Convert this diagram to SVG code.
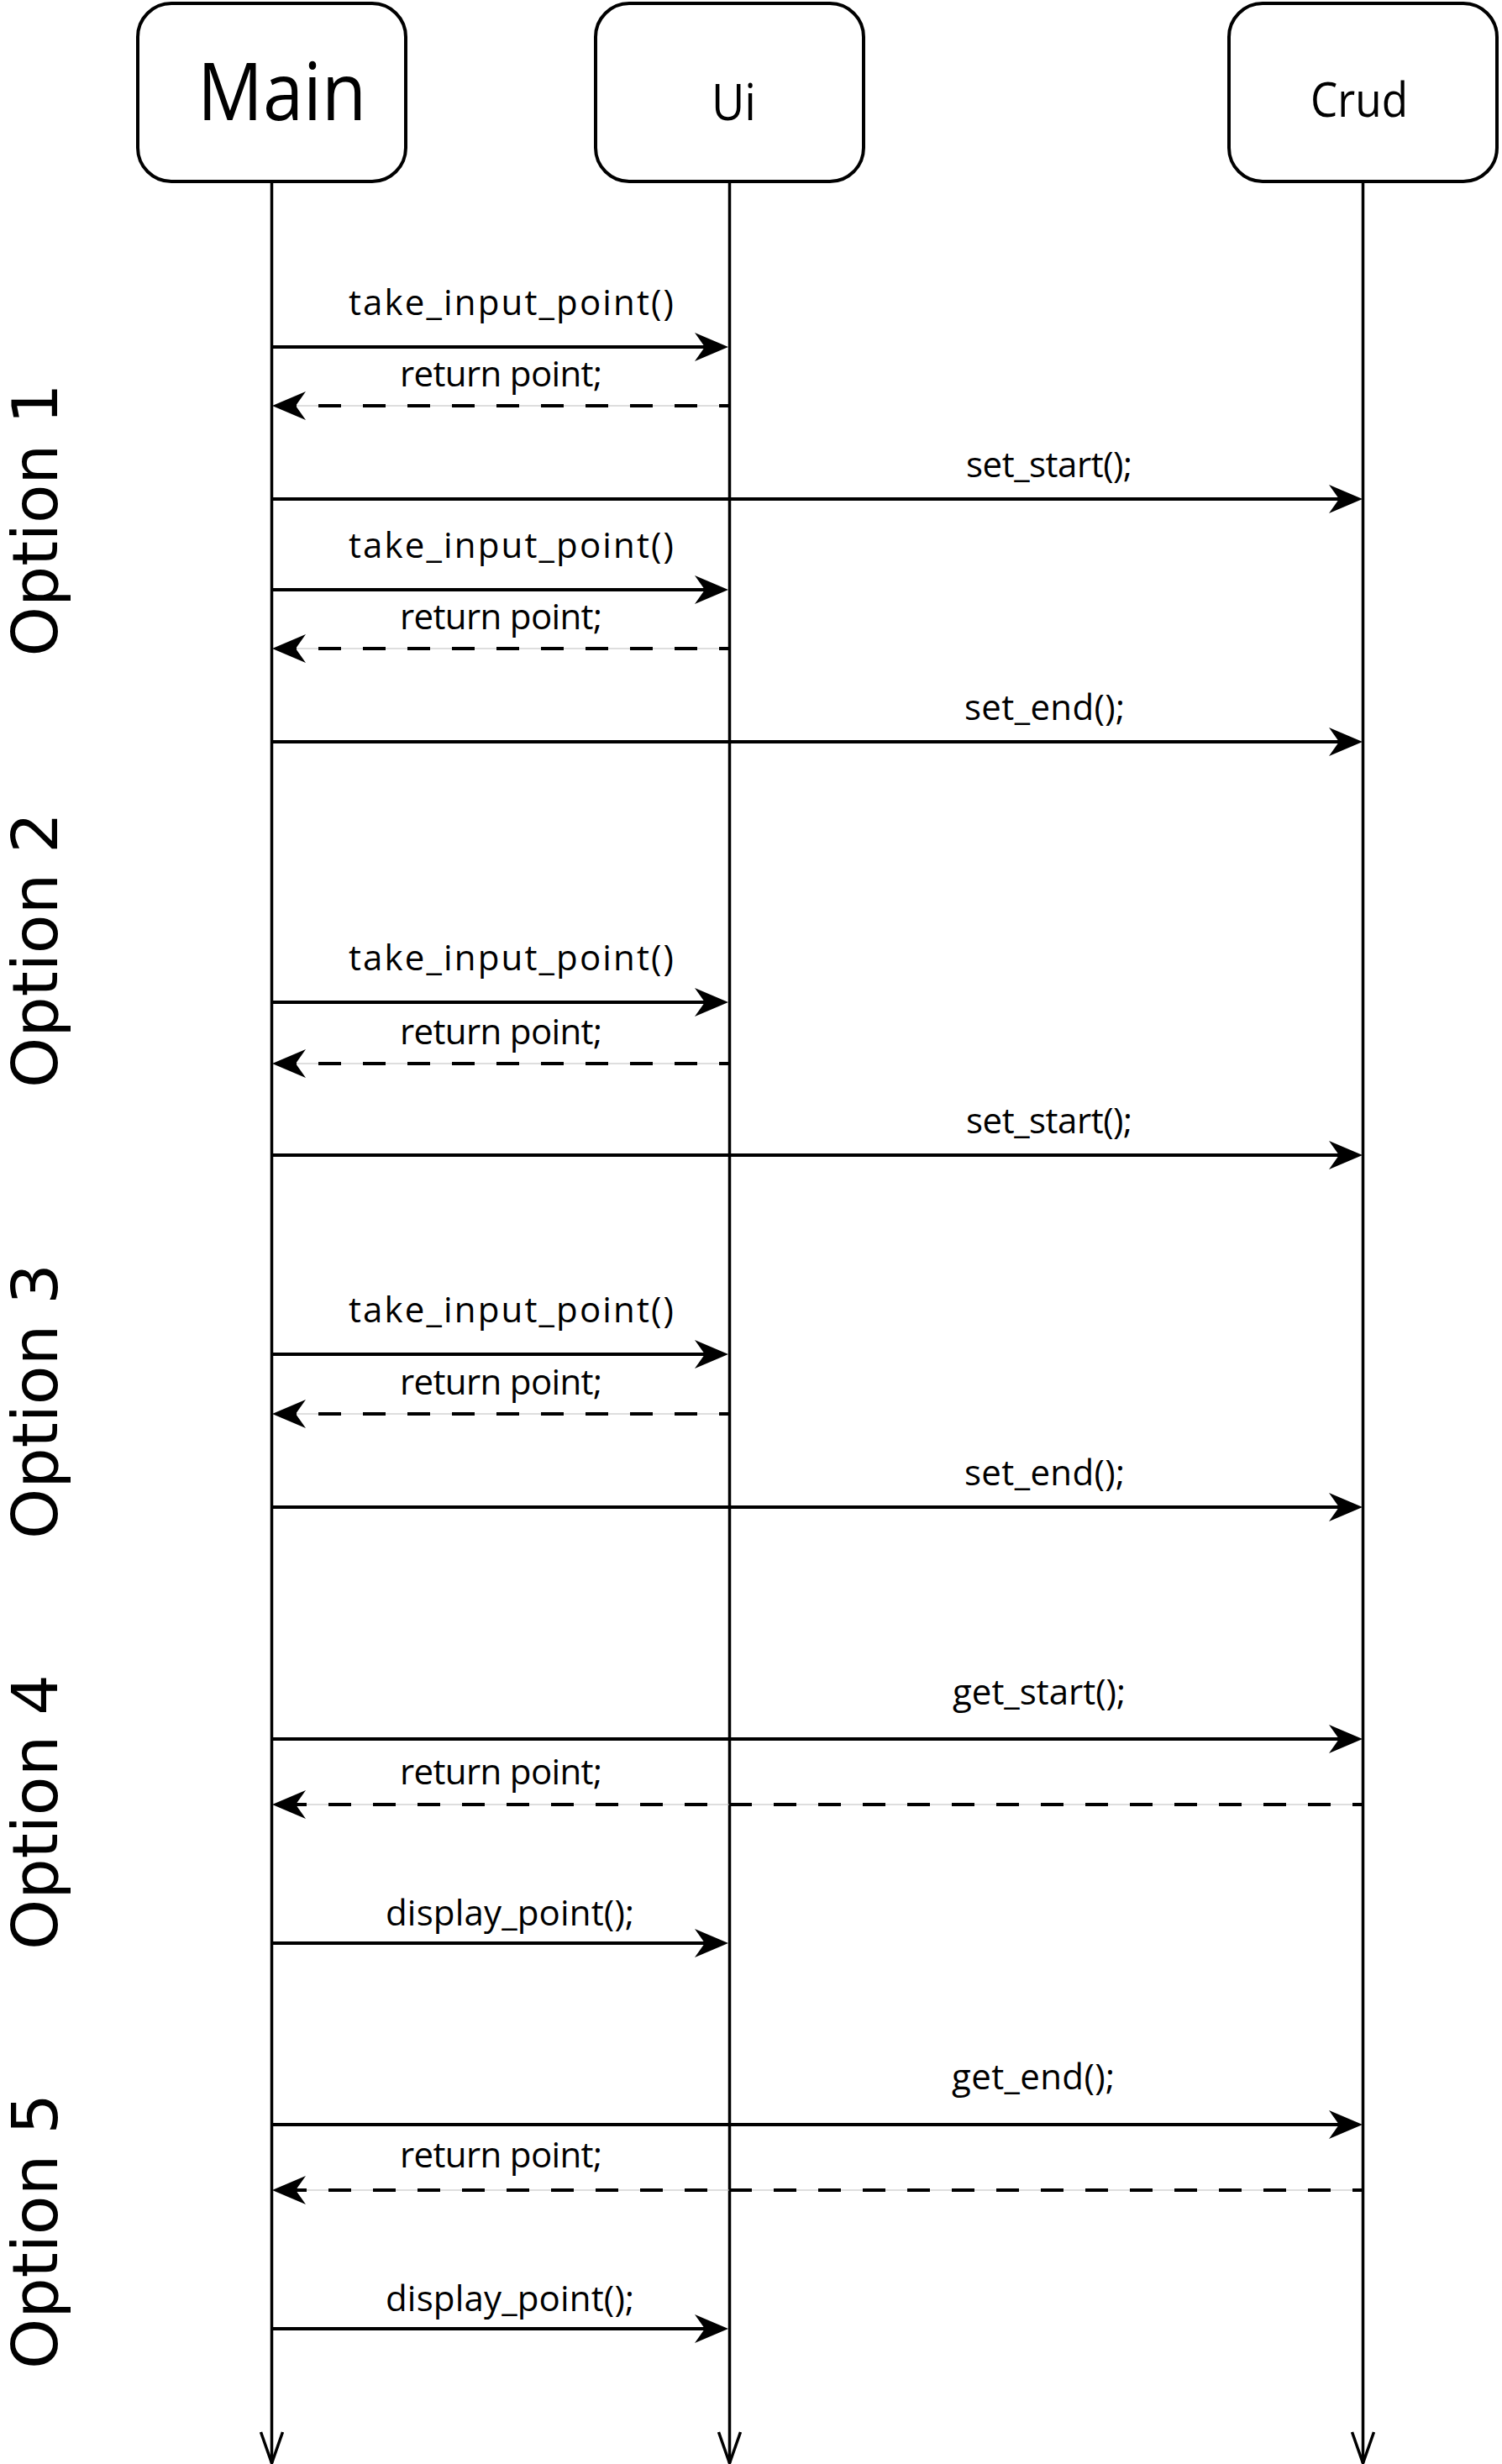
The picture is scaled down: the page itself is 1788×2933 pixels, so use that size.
<svg xmlns="http://www.w3.org/2000/svg" width="1788" height="2933" viewBox="0 0 1788 2933">
<style>
.box{fill:#fff;stroke:#000;stroke-width:4}
.life{stroke:#000;stroke-width:3.5;fill:none}
.msg{stroke:#000;stroke-width:4;fill:none}
.ret{stroke:#000;stroke-width:4;fill:none;stroke-dasharray:27 26}
.ghost{stroke:#bdbdbd;stroke-width:1;fill:none}
.lbl{font-family:"Open Sans",Lato,sans-serif;font-size:42px;fill:#000}
.head{font-family:"Open Sans",Lato,sans-serif;fill:#000}
.opt{font-family:"DejaVu Sans",sans-serif;font-size:74px;fill:#000;text-anchor:middle}
</style>
<defs>
<marker id="arr" markerUnits="userSpaceOnUse" viewBox="0 0 40 34" refX="12" refY="17" markerWidth="40" markerHeight="34" orient="auto" overflow="visible">
<path d="M0,0 L40,17 L0,34 L12,17 Z" fill="#000"/>
</marker>
<marker id="open" markerUnits="userSpaceOnUse" viewBox="0 0 40 28" refX="37" refY="13" markerWidth="40" markerHeight="28" orient="auto" overflow="visible">
<path d="M0,0 L37,13 L0,26" fill="none" stroke="#000" stroke-width="3.5"/>
</marker>
</defs>
<rect width="1788" height="2933" fill="#fff"/>

<g id="main">
<rect class="box" x="164" y="4" width="319" height="212" rx="40" ry="40"/>
<text class="head" x="235" y="143" font-size="95" textLength="201" lengthAdjust="spacingAndGlyphs">Main</text>
<path class="life" d="M323.5,218 V2932" marker-end="url(#open)"/>
</g>
<g id="ui">
<rect class="box" x="709" y="4" width="319" height="212" rx="40" ry="40"/>
<text class="head" x="847" y="143" font-size="60" textLength="53" lengthAdjust="spacingAndGlyphs">Ui</text>
<path class="life" d="M868.5,218 V2932" marker-end="url(#open)"/>
</g>
<g id="crud">
<rect class="box" x="1463" y="4" width="319" height="212" rx="40" ry="40"/>
<text class="head" x="1560" y="139" font-size="56" textLength="116" lengthAdjust="spacingAndGlyphs">Crud</text>
<path class="life" d="M1622.5,218 V2932" marker-end="url(#open)"/>
</g>

<g id="options">
<text class="opt" transform="translate(68,619) rotate(-90)" textLength="325" lengthAdjust="spacingAndGlyphs">Option 1</text>
<text class="opt" transform="translate(68,1131) rotate(-90)" textLength="328" lengthAdjust="spacingAndGlyphs">Option 2</text>
<text class="opt" transform="translate(68,1668) rotate(-90)" textLength="328" lengthAdjust="spacingAndGlyphs">Option 3</text>
<text class="opt" transform="translate(68,2157) rotate(-90)" textLength="328" lengthAdjust="spacingAndGlyphs">Option 4</text>
<text class="opt" transform="translate(68,2656) rotate(-90)" textLength="328" lengthAdjust="spacingAndGlyphs">Option 5</text>
</g>

<g id="connectors">
<!-- Option 1 -->
<path class="msg" d="M325,413 H839" marker-end="url(#arr)"/>
<text class="lbl" x="415" y="375" textLength="387">take_input_point()</text>
<path class="ghost" d="M867,483 H352"/>
<path class="ret" d="M867,483 H352" stroke-dashoffset="16" marker-end="url(#arr)"/>
<text class="lbl" x="476" y="460" textLength="241">return point;</text>
<path class="msg" d="M325,594 H1594" marker-end="url(#arr)"/>
<text class="lbl" x="1150" y="568" textLength="198">set_start();</text>
<path class="msg" d="M325,702 H839" marker-end="url(#arr)"/>
<text class="lbl" x="415" y="664" textLength="387">take_input_point()</text>
<path class="ghost" d="M867,772 H352"/>
<path class="ret" d="M867,772 H352" stroke-dashoffset="16" marker-end="url(#arr)"/>
<text class="lbl" x="476" y="749" textLength="241">return point;</text>
<path class="msg" d="M325,883 H1594" marker-end="url(#arr)"/>
<text class="lbl" x="1148" y="857" textLength="191">set_end();</text>
<!-- Option 2 -->
<path class="msg" d="M325,1193 H839" marker-end="url(#arr)"/>
<text class="lbl" x="415" y="1155" textLength="387">take_input_point()</text>
<path class="ghost" d="M867,1266 H352"/>
<path class="ret" d="M867,1266 H352" stroke-dashoffset="16" marker-end="url(#arr)"/>
<text class="lbl" x="476" y="1243" textLength="241">return point;</text>
<path class="msg" d="M325,1375 H1594" marker-end="url(#arr)"/>
<text class="lbl" x="1150" y="1349" textLength="198">set_start();</text>
<!-- Option 3 -->
<path class="msg" d="M325,1612 H839" marker-end="url(#arr)"/>
<text class="lbl" x="415" y="1574" textLength="387">take_input_point()</text>
<path class="ghost" d="M867,1683 H352"/>
<path class="ret" d="M867,1683 H352" stroke-dashoffset="16" marker-end="url(#arr)"/>
<text class="lbl" x="476" y="1660" textLength="241">return point;</text>
<path class="msg" d="M325,1794 H1594" marker-end="url(#arr)"/>
<text class="lbl" x="1148" y="1768" textLength="191">set_end();</text>
<!-- Option 4 -->
<path class="msg" d="M325,2070 H1594" marker-end="url(#arr)"/>
<text class="lbl" x="1134" y="2029" textLength="206">get_start();</text>
<path class="ghost" d="M1621,2148 H352"/>
<path class="ret" d="M1621,2148 H352" stroke-dashoffset="16" marker-end="url(#arr)"/>
<text class="lbl" x="476" y="2124" textLength="241">return point;</text>
<path class="msg" d="M325,2313 H839" marker-end="url(#arr)"/>
<text class="lbl" x="459" y="2292" textLength="296">display_point();</text>
<!-- Option 5 -->
<path class="msg" d="M325,2529 H1594" marker-end="url(#arr)"/>
<text class="lbl" x="1133" y="2487" textLength="194">get_end();</text>
<path class="ghost" d="M1621,2607 H352"/>
<path class="ret" d="M1621,2607 H352" stroke-dashoffset="16" marker-end="url(#arr)"/>
<text class="lbl" x="476" y="2580" textLength="241">return point;</text>
<path class="msg" d="M325,2772 H839" marker-end="url(#arr)"/>
<text class="lbl" x="459" y="2751" textLength="296">display_point();</text>
</g>
</svg>
